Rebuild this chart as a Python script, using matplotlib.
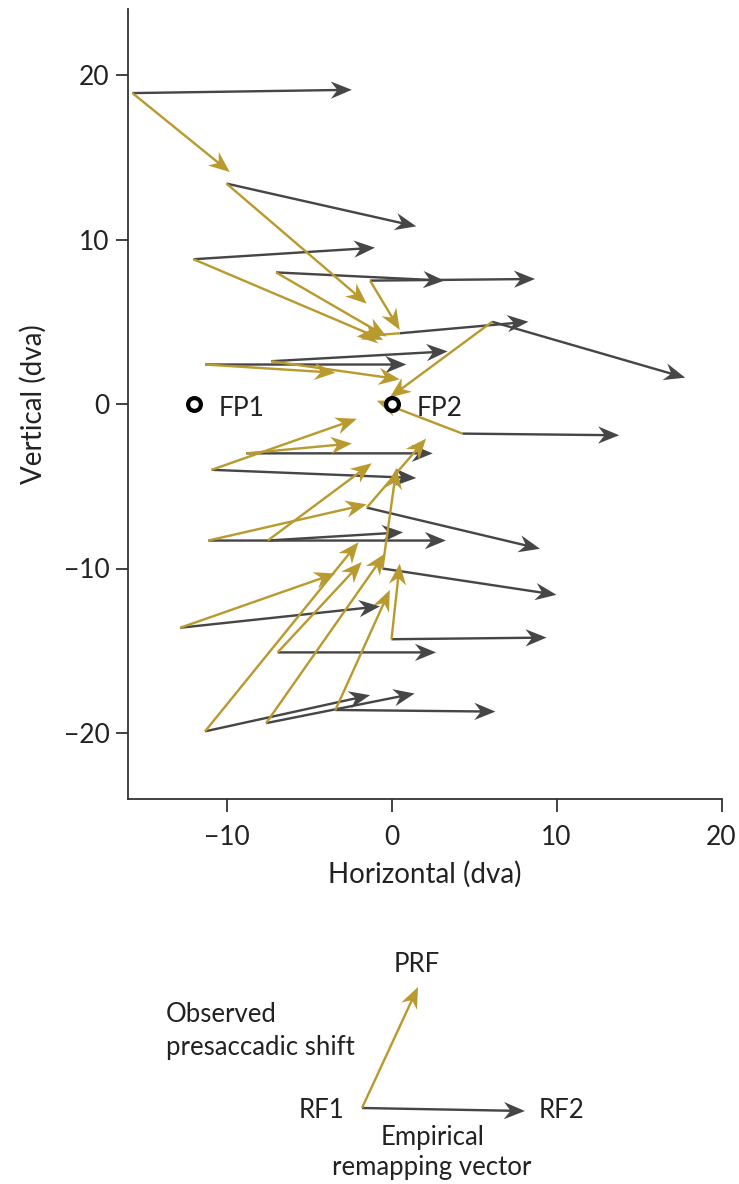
import matplotlib
matplotlib.use("Agg")
import matplotlib.pyplot as plt
import numpy as np

plt.rcParams['font.family'] = ['Lato', 'DejaVu Sans']

# RF1 (origin), RF2 (empirical remapping end), PRF (observed presaccadic shift end)
rf1_x = [-15.7, -10.0, -12.0, -7.0, -1.3, 6.1, 0.5, -11.3, -7.3, 4.3,
         -8.8, -10.9, -11.1, -7.5, -1.5, -12.8, -6.9, 0.0, -11.3, -7.6, -3.4, -0.55]
rf1_y = [18.9, 13.4, 8.8, 8.0, 7.5, 5.0, 4.3, 2.4, 2.6, -1.8,
         -3.0, -4.0, -8.3, -8.3, -6.3, -13.6, -15.1, -14.3, -19.9, -19.4, -18.6, -10.0]
rf2_x = [-2.4, 1.5, -1.0, 3.2, 8.7, 17.8, 8.3, 0.9, 3.4, 13.8,
         2.5, 1.5, 3.3, 0.7, 9.0, -0.7, 2.7, 9.4, -1.3, 1.4, 6.3, 10.0]
rf2_y = [19.1, 10.8, 9.5, 7.5, 7.6, 1.6, 5.0, 2.4, 3.2, -1.9,
         -3.0, -4.5, -8.3, -7.8, -8.8, -12.3, -15.1, -14.2, -17.7, -17.6, -18.7, -11.6]
prf_x = [-9.8, -1.5, -0.5, -0.3, 0.5, -0.1, -2.1, -3.4, 0.5, -0.9,
         -2.4, -2.1, -1.5, -1.2, 2.1, -3.4, -1.8, 0.5, -2.0, -0.4, -0.1, 0.3]
prf_y = [14.1, 6.1, 3.9, 4.1, 4.5, 0.4, 4.1, 1.9, 1.5, 0.2,
         -2.4, -0.9, -6.1, -3.6, -2.1, -10.3, -9.6, -9.7, -8.4, -9.1, -11.3, -3.9]

fp_x = [-12, 0]
fp_y = [0, 0]
fp_labels = ['FP1', 'FP2']

x_ticks = [-10, 0, 10, 20]
y_ticks = [-20, -10, 0, 10, 20]

# schematic legend (pixel coordinates of the inset)
leg_rf1 = (362, 1108)
leg_rf2 = (525, 1111)
leg_prf = (418, 987)

GOLD = '#B99A2E'
GRAY = '#464646'
TXT = '#222222'

W, H = 739, 1184
fig = plt.figure(figsize=(W / 100, H / 100), dpi=100)
ax = fig.add_axes([127.5 / W, 1 - 798.8 / H, 594 / W, 789.6 / H])

rf1_x_a = np.array(rf1_x); rf1_y_a = np.array(rf1_y)
qkw = dict(angles='xy', scale_units='xy', scale=1, units='dots', width=2.4,
           headwidth=7.2, headlength=8.8, headaxislength=6.4)
ax.quiver(rf1_x_a, rf1_y_a, np.array(rf2_x) - rf1_x_a, np.array(rf2_y) - rf1_y_a,
          color=GRAY, zorder=2, **qkw)
ax.quiver(rf1_x_a, rf1_y_a, np.array(prf_x) - rf1_x_a, np.array(prf_y) - rf1_y_a,
          color=GOLD, zorder=3, **qkw)

ax.scatter(fp_x, fp_y, s=85, facecolors='white', edgecolors='black', linewidths=3.0, zorder=4)
for x, y, lab in zip(fp_x, fp_y, fp_labels):
    ax.text(x + 1.55, y - 0.25, lab, fontsize=19, color=TXT, va='center', ha='left', zorder=5)

ax.set_xlim(-16, 20)
ax.set_ylim(-24, 24)
ax.set_xticks(x_ticks)
ax.set_yticks(y_ticks)
ax.set_xticklabels(['\u221210', '0', '10', '20'])
ax.set_yticklabels(['\u221220', '\u221210', '0', '10', '20'])
for s in ['top', 'right']:
    ax.spines[s].set_visible(False)
for s in ['left', 'bottom']:
    ax.spines[s].set_linewidth(1.3)
    ax.spines[s].set_color('#333333')
ax.tick_params(direction='out', length=9, width=1.3, color='#333333',
               labelsize=19, labelcolor=TXT)
ax.tick_params(axis='y', pad=4)
ax.tick_params(axis='x', pad=10)
ax.set_xlabel('Horizontal (dva)', fontsize=20, color=TXT, labelpad=8)
ax.set_ylabel('Vertical (dva)', fontsize=20, color=TXT, labelpad=12)

# schematic inset
ax2 = fig.add_axes([0, 0, 1, 224 / H])
ax2.set_xlim(0, W)
ax2.set_ylim(H, H - 224)
ax2.axis('off')
ax2.quiver([leg_rf1[0]], [leg_rf1[1]], [leg_rf2[0] - leg_rf1[0]], [leg_rf2[1] - leg_rf1[1]],
           color=GRAY, **qkw)
ax2.quiver([leg_rf1[0]], [leg_rf1[1]], [leg_prf[0] - leg_rf1[0]], [leg_prf[1] - leg_rf1[1]],
           color=GOLD, **qkw)
fs = 18.5
ax2.text(417, 964, 'PRF', fontsize=fs, color=TXT, ha='center', va='center')
ax2.text(166, 1015, 'Observed', fontsize=fs, color=TXT, ha='left', va='center')
ax2.text(166, 1048, 'presaccadic shift', fontsize=fs, color=TXT, ha='left', va='center')
ax2.text(344, 1110, 'RF1', fontsize=fs, color=TXT, ha='right', va='center')
ax2.text(539, 1111, 'RF2', fontsize=fs, color=TXT, ha='left', va='center')
ax2.text(433, 1137, 'Empirical', fontsize=fs, color=TXT, ha='center', va='center')
ax2.text(432, 1167, 'remapping vector', fontsize=fs, color=TXT, ha='center', va='center')

fig.savefig('out.png', dpi=100)
